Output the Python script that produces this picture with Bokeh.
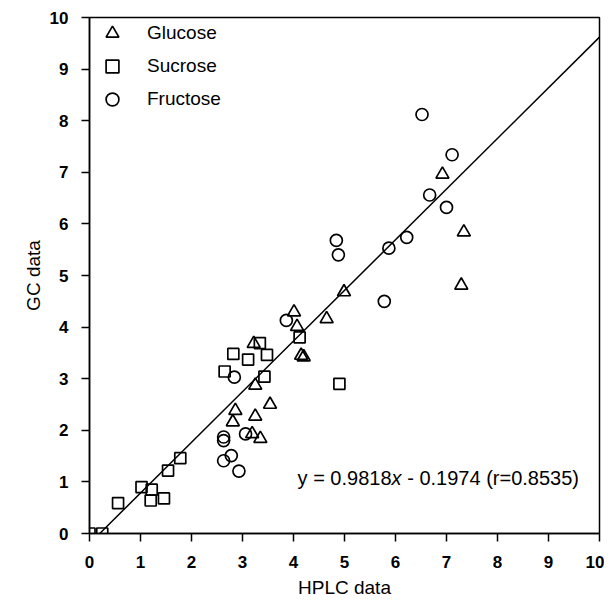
from bokeh.plotting import figure
from bokeh.models import Range1d, Legend, LegendItem, Label, FixedTicker
from bokeh.embed import file_html
from bokeh.resources import INLINE

# ---- data ----
glucose_x = [2.81, 2.86, 3.19, 3.35, 3.25, 3.25, 3.22, 3.54, 4.01, 4.07, 4.15, 4.20, 4.65, 4.99, 6.92, 7.34, 7.29]
glucose_y = [2.16, 2.38, 1.93, 1.84, 2.27, 2.87, 3.68, 2.50, 4.29, 4.01, 3.45, 3.42, 4.16, 4.68, 6.96, 5.84, 4.81]

sucrose_x = [0.00, 0.25, 0.56, 1.02, 1.22, 1.20, 1.46, 1.54, 1.78, 2.65, 2.82, 3.11, 3.34, 3.48, 3.43, 4.12, 4.90]
sucrose_y = [0.00, 0.00, 0.59, 0.90, 0.85, 0.64, 0.68, 1.22, 1.46, 3.14, 3.48, 3.37, 3.69, 3.46, 3.04, 3.80, 2.90]

fructose_x = [2.63, 2.63, 2.63, 2.78, 2.93, 2.84, 3.06, 3.86, 4.84, 4.88, 5.78, 5.87, 6.22, 6.67, 7.00, 7.11, 6.52]
fructose_y = [1.87, 1.80, 1.41, 1.51, 1.21, 3.03, 1.93, 4.13, 5.68, 5.40, 4.50, 5.53, 5.74, 6.56, 6.32, 7.34, 8.12]

slope = 0.9818
intercept = -0.1974
r_value = 0.8535

ticks = list(range(0, 11))
x_label = "HPLC data"
y_label = "GC data"

FONT = "Liberation Sans"

p = figure(width=604, height=601, output_backend="svg", toolbar_location=None,
           x_range=Range1d(0, 10), y_range=Range1d(0, 10),
           min_border_left=89, min_border_right=5, min_border_top=17, min_border_bottom=68)

p.xgrid.visible = False
p.ygrid.visible = False
p.outline_line_color = "black"
p.outline_line_width = 1.5
p.background_fill_color = "white"
p.border_fill_color = "white"

for ax in (p.xaxis[0], p.yaxis[0]):
    ax.ticker = FixedTicker(ticks=ticks)
    ax.axis_line_width = 1.5
    ax.axis_line_color = "black"
    ax.major_tick_line_width = 1.5
    ax.major_tick_line_color = "black"
    ax.major_tick_in = 0
    ax.major_tick_out = 8
    ax.minor_tick_line_color = None
    ax.major_label_text_font = FONT
    ax.major_label_text_font_style = "bold"
    ax.major_label_text_font_size = "17px"
    ax.major_label_text_color = "black"
    ax.axis_label_text_font = FONT
    ax.axis_label_text_font_style = "normal"
    ax.axis_label_text_font_size = "19px"
    ax.axis_label_text_color = "black"

p.xaxis.axis_label = x_label
p.yaxis.axis_label = y_label
p.xaxis.major_label_standoff = 14
p.yaxis.major_label_standoff = 13
p.xaxis.axis_label_standoff = 6
p.yaxis.axis_label_standoff = 3

# regression line across the plotted range
x0 = -intercept / slope
x1 = p.x_range.end
p.line([x0, x1], [slope * x0 + intercept, slope * x1 + intercept], line_color="black", line_width=1.5)

rg = p.scatter(glucose_x, glucose_y, marker="triangle", size=13, fill_color=None,
               line_color="black", line_width=1.7)
rs = p.scatter(sucrose_x, sucrose_y, marker="square", size=11, fill_color=None,
               line_color="black", line_width=1.7)
rf = p.scatter(fructose_x, fructose_y, marker="circle", size=12, fill_color=None,
               line_color="black", line_width=1.7)

legend = Legend(items=[LegendItem(label="Glucose", renderers=[rg]),
                       LegendItem(label="Sucrose", renderers=[rs]),
                       LegendItem(label="Fructose", renderers=[rf])],
                location="top_left", glyph_width=46, glyph_height=32, padding=10, margin=0,
                spacing=1, label_standoff=12, border_line_color=None, background_fill_alpha=0,
                label_text_font=FONT, label_text_font_size="19px", label_text_color="black")
p.add_layout(legend)

# equation text
eq_x, eq_y = 4.08, 1.08
eq_font = "20px"
p.add_layout(Label(x=eq_x, y=eq_y, text="y = %.4f" % slope, text_font=FONT,
                   text_font_size=eq_font, text_baseline="alphabetic", text_color="black"))
p.add_layout(Label(x=eq_x, y=eq_y, x_offset=94, text="x", text_font=FONT, text_font_style="italic",
                   text_font_size=eq_font, text_baseline="alphabetic", text_color="black"))
p.add_layout(Label(x=eq_x, y=eq_y, x_offset=109.6,
                   text="- %.4f (r=%.4f)" % (abs(intercept), r_value), text_font=FONT,
                   text_font_size=eq_font, text_baseline="alphabetic", text_color="black"))

open("out.html", "w").write(file_html(p, INLINE))
